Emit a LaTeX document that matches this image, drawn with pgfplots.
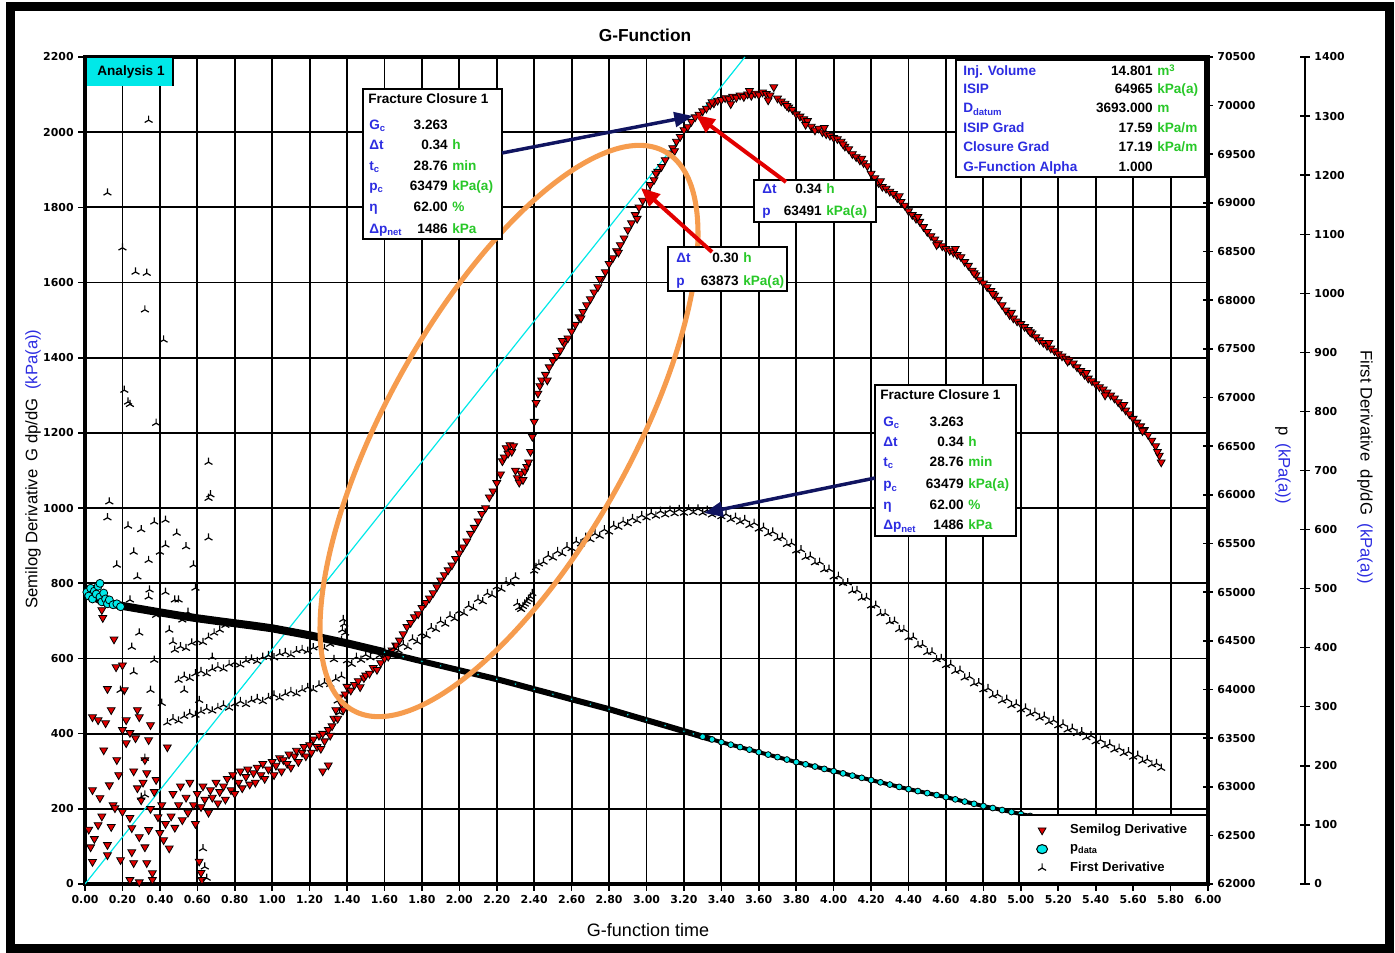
\documentclass[border=0pt]{standalone}
\usepackage{pgfplots}
\pgfplotsset{compat=1.18}
\usepackage{pgfplotstable}
\usepackage{fontspec}
\setmainfont{Liberation Sans}
\newfontfamily\numfont{DejaVu Sans}
\usetikzlibrary{arrows.meta}

\definecolor{semired}{RGB}{226,0,0}
\definecolor{pcyan}{RGB}{0,232,232}
\definecolor{lblue}{RGB}{45,45,225}
\definecolor{ugreen}{RGB}{40,200,40}
\definecolor{navy}{RGB}{16,20,96}
\definecolor{ringorange}{RGB}{246,156,78}

% pressure history (kPa(a)) against G-function time
\pgfplotstableread{
G p
0.05 64946
0.10 64900
0.20 64858
0.30 64825
0.40 64792
0.50 64760
0.60 64731
0.70 64705
0.80 64680
0.90 64655
1.00 64628
1.10 64592
1.20 64556
1.30 64515
1.40 64474
1.50 64428
1.60 64382
1.70 64336
1.80 64289
1.90 64243
2.00 64197
2.10 64151
2.20 64105
2.30 64054
2.40 64002
2.50 63951
2.60 63899
2.70 63848
2.80 63797
2.90 63740
3.00 63684
3.10 63628
3.20 63571
3.25 63543
3.30 63514
3.35 63486
3.40 63458
3.45 63432
3.50 63407
3.55 63381
3.60 63355
3.65 63330
3.70 63304
3.75 63279
3.80 63253
3.85 63230
3.90 63207
3.95 63183
4.00 63160
4.05 63137
4.10 63114
4.15 63091
4.20 63068
4.25 63045
4.30 63022
4.35 62998
4.40 62975
4.45 62955
4.50 62934
4.55 62914
4.60 62893
4.65 62870
4.70 62847
4.75 62824
4.80 62801
4.85 62781
4.90 62760
4.95 62740
5.00 62719
5.05 62699
5.10 62680
5.15 62660
5.20 62640
5.25 62621
5.30 62603
5.35 62584
5.40 62565
5.45 62548
5.50 62530
5.55 62513
5.60 62495
5.65 62478
5.70 62462
5.75 62445
}\pdata

\newcommand{\bx}{\bfseries\fontsize{10.2}{12}\selectfont}
% one line of an annotation box: label x, value right edge, baseline y, label, value, unit
\newcommand{\inforow}[6]{%
  \node[anchor=base west, font=\bx, text=lblue, inner sep=0pt] at (#1,#3) {#4};
  \node[anchor=base east, font=\bx, inner sep=0pt] at (#2,#3) {#5};
  \node[anchor=base west, font=\bx, text=ugreen, inner sep=0pt] at (#2+4,#3) {#6};}

\pgfplotsset{
  gframe/.style={
    scale only axis, width=842.25pt, height=620.25pt,
    at={(63.75pt,51pt)}, anchor=south west,
    xmin=0, xmax=6,
    /pgf/number format/assume math mode=true,
    /pgf/number format/1000 sep={},
    tick label style={font=\numfont\bfseries\fontsize{8.2}{9}\selectfont, black},
    scaled ticks=false,
  },
}

\begin{document}
\begin{tikzpicture}
\begin{scope}[x=0.75pt, y=-0.75pt, yshift=714pt]
  \useasboundingbox (0,0) rectangle (1395,952);
\end{scope}

% ---------- G dp/dG on the left axis ----------
\begin{axis}[gframe, ymin=0, ymax=2200, ytick distance=200,
  xtick={0,0.2,0.4,0.6,0.8,1,1.2,1.4,1.6,1.8,2,2.2,2.4,2.6,2.8,3,3.2,3.4,3.6,3.8,4,4.2,4.4,4.6,4.8,5,5.2,5.4,5.6,5.8,6},
  x tick label style={/pgf/number format/fixed, /pgf/number format/fixed zerofill, /pgf/number format/precision=2},
  tick pos=left, tick align=outside, major tick length=5pt,
  tick style={black, line width=1.2pt},
  grid=major, major grid style={black, line width=1.4pt},
  axis line style={black, line width=2.6pt},
]
\addplot[only marks, mark=triangle*, mark size=3.4pt,
  mark options={rotate=180, fill=semired, draw=black, line width=0.6pt}] coordinates {
(0.02,145) (0.03,98) (0.04,59) (0.04,250) (0.04,444) (0.05,120) (0.07,157) (0.07,436) (0.08,229) (0.09,729) (0.095,708) (0.09,180) (0.10,356) (0.11,428) (0.12,104) (0.12,77) (0.12,519) (0.13,263) (0.14,152) (0.14,463) (0.15,210) (0.155,651) (0.16,202) (0.166,577) (0.17,330) (0.18,290) (0.19,64) (0.20,192) (0.20,410) (0.20,582) (0.21,516) (0.22,375) (0.22,436) (0.24,176) (0.24,402) (0.24,11) (0.25,149) (0.25,85) (0.26,56) (0.26,300) (0.27,388) (0.28,255) (0.28,463) (0.29,444) (0.29,5) (0.29,125) (0.30,223) (0.31,270) (0.32,330) (0.32,98) (0.33,56) (0.33,295) (0.34,383) (0.34,144) (0.35,423) (0.35,200) (0.36,29) (0.36,11) (0.37,245) (0.38,277) (0.39,178) (0.40,136) (0.41,210) (0.42,117) (0.43,160) (0.44,364) (0.45,95) (0.61,60) (0.62,30) (0.625,11)
(0.46,180) (0.47,240) (0.48,150) (0.50,210) (0.51,260) (0.52,170) (0.54,230) (0.55,190) (0.56,270) (0.58,210) (0.59,160) (0.60,240) (0.62,205) (0.63,260) (0.64,225) (0.66,190) (0.67,250) (0.68,230) (0.70,270) (0.71,215) (0.72,245) (0.74,260) (0.75,225) (0.76,280) (0.78,250) (0.79,290) (0.80,240) (0.82,270) (0.83,300) (0.84,255) (0.86,285) (0.87,305) (0.88,265) (0.90,295) (0.91,270) (0.92,310) (0.94,290) (0.95,320) (0.96,280) (0.98,305) (1.00,325) (1.01,290) (1.02,315) (1.04,335) (1.05,300) (1.06,330) (1.08,320) (1.09,345) (1.10,310) (1.12,340) (1.13,355) (1.14,325) (1.16,350) (1.17,365) (1.18,340) (1.20,370) (1.21,350) (1.22,385) (1.24,365) (1.25,395) (1.26,360) (1.27,400) (1.27,300) (1.28,380) (1.30,316) (1.30,410) (1.31,395) (1.32,420) (1.33,440) (1.34,463) (1.35,440) (1.36,497) (1.37,480) (1.38,463) (1.39,505) (1.40,525)
(1.42,515) (1.44,530) (1.46,540) (1.47,524) (1.49,548) (1.50,555) (1.52,560) (1.54,575) (1.56,570) (1.58,588) (1.60,600) (1.62,605) (1.64,622) (1.66,635) (1.68,648) (1.70,665) (1.72,684) (1.74,695) (1.76,710) (1.78,718) (1.80,735) (1.82,748) (1.84,760) (1.86,774) (1.88,790) (1.90,808) (1.92,822) (1.94,835) (1.96,848) (1.98,865) (2.00,880) (2.02,896) (2.04,912) (2.06,932) (2.08,948) (2.10,965) (2.12,985) (2.14,1000) (2.16,1029) (2.18,1045) (2.20,1067) (2.22,1090) (2.23,1125) (2.24,1135) (2.25,1160) (2.26,1145) (2.27,1168) (2.28,1150) (2.29,1165) (2.30,1100) (2.31,1080) (2.32,1068) (2.33,1092) (2.34,1075) (2.35,1098) (2.36,1110) (2.37,1122) (2.38,1150) (2.39,1190) (2.40,1230) (2.41,1280) (2.42,1305) (2.43,1325) (2.44,1340) (2.46,1355) (2.48,1375) (2.50,1392) (2.52,1405) (2.54,1420) (2.56,1438) (2.58,1452) (2.60,1470) (2.62,1488) (2.64,1508) (2.66,1522) (2.68,1540) (2.70,1556) (2.72,1574) (2.74,1588) (2.76,1610) (2.78,1628) (2.80,1650) (2.82,1665) (2.84,1684) (2.86,1700) (2.88,1718) (2.90,1740) (2.92,1758) (2.94,1780) (2.96,1800) (2.98,1818) (3.00,1840) (3.02,1860) (3.04,1873) (3.06,1895) (3.08,1908) (3.10,1926) (3.12,1944) (3.14,1958) (3.16,1975) (3.18,1988) (3.20,2006) (3.22,2014) (3.24,2028) (3.26,2040) (3.28,2047) (3.30,2056) (3.32,2063) (3.34,2072) (3.36,2077) (3.38,2084) (3.40,2086) (3.42,2091) (3.44,2088) (3.46,2095) (3.48,2092) (3.50,2098) (3.52,2094) (3.54,2101) (3.56,2097) (3.58,2103) (3.60,2099) (3.62,2106) (3.64,2102) (3.66,2098) (3.68,2120) (3.70,2090) (3.72,2082) (3.74,2076) (3.76,2066) (3.78,2060) (3.80,2048) (3.82,2042) (3.84,2035) (3.86,2030) (3.88,2015) (3.90,2005) (3.92,2010) (3.94,2000) (3.96,1995) (3.98,1991) (4.00,1985) (4.02,1982) (4.04,1975) (4.06,1962) (4.08,1955) (4.10,1942) (4.12,1934) (4.14,1925) (4.16,1918) (4.18,1910) (4.20,1890) (4.22,1878) (4.24,1865) (4.26,1855) (4.28,1850) (4.30,1842) (4.32,1836) (4.34,1825) (4.36,1815) (4.38,1805) (4.40,1790) (4.42,1780) (4.44,1770) (4.46,1762) (4.48,1748) (4.50,1735) (4.52,1724) (4.54,1715) (4.56,1705) (4.58,1697) (4.60,1690) (4.62,1685) (4.64,1680) (4.66,1674) (4.68,1668) (4.70,1655) (4.72,1645) (4.74,1632) (4.76,1620) (4.78,1608) (4.80,1598) (4.82,1588) (4.84,1578) (4.86,1566) (4.88,1555) (4.90,1540) (4.92,1526) (4.94,1514) (4.96,1505) (4.98,1497) (5.00,1490) (5.02,1482) (5.04,1474) (5.06,1465) (5.08,1455) (5.10,1447) (5.12,1440) (5.14,1432) (5.16,1425) (5.18,1418) (5.20,1410) (5.22,1404) (5.24,1398) (5.26,1394) (5.28,1385) (5.30,1375) (5.32,1365) (5.34,1355) (5.36,1345) (5.38,1338) (5.40,1330) (5.42,1322) (5.44,1316) (5.46,1308) (5.48,1300) (5.50,1292) (5.52,1282) (5.54,1270) (5.56,1260) (5.58,1250) (5.60,1238) (5.62,1228) (5.64,1218) (5.66,1208) (5.68,1195) (5.70,1180) (5.72,1165) (5.74,1140) (5.75,1122)
(2.47,1340) (2.55,1445) (2.65,1505) (2.75,1610) (2.85,1680) (2.95,1770) (3.05,1890) (3.15,1950) (3.35,2080) (3.45,2075) (3.55,2110) (3.65,2085) (3.75,2070) (3.85,2020) (3.95,2012) (4.05,1968) (4.15,1930) (4.25,1870) (4.35,1830) (4.45,1775) (4.55,1700) (4.65,1690) (4.75,1625) (4.85,1570) (4.95,1520) (5.05,1468) (5.15,1440) (5.25,1390) (5.35,1360) (5.45,1300) (5.55,1275) (5.65,1205) (5.73,1150)
};
% straight line through the origin
\addplot[pcyan, line width=0.9pt] coordinates {(0,0) (3.526,2200)};
\end{axis}

% ---------- pressure on the first right axis ----------
\begin{axis}[gframe, ymin=62000, ymax=70500,
  ytick={62000,62500,63000,63500,64000,64500,65000,65500,66000,66500,67000,67500,68000,68500,69000,69500,70000,70500},
  axis x line=none, axis y line*=right,
  axis line style={-, black, line width=2.6pt},
  tick align=center, major tick length=7pt, tick style={black, line width=1.2pt},
  yticklabel style={/pgf/number format/fixed, /pgf/number format/precision=0},
]
\addplot[black, line width=6pt, restrict x to domain=0:1.6] table[x=G, y=p] {\pdata};
\addplot[black, line width=4.5pt, restrict x to domain=1.5:3.35] table[x=G, y=p] {\pdata};
\addplot[black, line width=3pt, restrict x to domain=3.3:6] table[x=G, y=p] {\pdata};
\addplot[only marks, mark=*, mark size=1.1pt, mark options={fill=pcyan, draw=none},
  restrict x to domain=1.55:3.3] table[x=G, y=p] {\pdata};
\addplot[only marks, mark=*, mark size=2.2pt, mark options={fill=pcyan, draw=black, line width=0.6pt},
  restrict x to domain=3.3:6] table[x=G, y=p] {\pdata};
\addplot[only marks, mark=*, mark size=3pt, mark options={fill=pcyan, draw=black, line width=0.6pt}] coordinates {
(0.01,65000) (0.02,64960) (0.03,65040) (0.04,64930) (0.05,65010) (0.06,64980) (0.07,65060) (0.08,65090) (0.08,64950) (0.09,64900) (0.10,64990) (0.11,64930) (0.12,64880) (0.13,64920) (0.15,64870) (0.17,64880) (0.19,64850)
};
\end{axis}

% ---------- first derivative, plotted against the outer right axis ----------
\begin{axis}[gframe, ymin=0, ymax=1400, hide axis,
  legend style={at={(1,0)}, anchor=south east, draw=black, line width=1.3pt, fill=white,
    font=\bfseries\fontsize{9.8}{11}\selectfont, inner xsep=13pt, inner ysep=5pt,
    /tikz/every odd column/.append style={column sep=15pt}, row sep=2.5pt},
  legend cell align=left,
]
\addplot[forget plot, only marks, mark=Mercedes star, mark size=3.4pt, mark options={black, line width=0.9pt}] coordinates {
(0.12,1170) (0.20,1077) (0.27,1036) (0.33,1034) (0.34,1293) (0.32,972) (0.42,921) (0.21,836) (0.23,816) (0.24,812) (0.38,780) (0.66,714) (0.66,653) (0.13,647) (0.37,613) (0.43,616) (0.49,594) (0.23,606) (0.26,562) (0.40,562) (0.54,571) (0.66,586) (0.59,501) (0.50,481) (0.43,494) (0.34,486) (0.29,425) (0.25,401) (0.45,430) (0.26,359) (0.35,328) (0.41,306) (0.68,384) (0.32,213) (0.32,151) (0.30,147) (0.64,29) (0.63,60) (0.65,10) (0.19,328) (0.53,328) (0.61,311) (0.52,447) (0.48,481) (0.40,464) (0.37,379) (0.24,481) (0.34,548) (0.345,498) (0.43,574) (0.67,659) (0.12,620) (0.17,540) (0.28,520) (0.38,455) (0.47,410) (0.55,460) (0.58,540) (0.30,600)
(0.44,273) (0.47,280) (0.50,276) (0.53,284) (0.56,289) (0.59,286) (0.62,292) (0.65,297) (0.68,293) (0.71,299) (0.74,303) (0.77,298) (0.80,305) (0.83,309) (0.86,304) (0.89,311) (0.92,314) (0.95,309) (0.98,316) (1.01,320) (1.04,315) (1.07,322) (1.10,326) (1.13,322) (1.16,329) (1.19,333) (1.22,329) (1.25,337) (1.28,341) (1.31,338) (1.34,347) (1.37,352)
(0.50,345) (0.53,352) (0.56,348) (0.59,356) (0.62,360) (0.65,356) (0.68,364) (0.71,368) (0.74,364) (0.77,372) (0.80,375) (0.83,371) (0.86,378) (0.89,381) (0.92,377) (0.95,384) (0.98,387) (1.01,383) (1.04,390) (1.07,392) (1.10,388) (1.13,395) (1.16,397) (1.19,394) (1.22,400) (1.25,403) (1.28,399) (1.31,406) (1.34,410) (1.37,412)
(0.48,396) (0.51,402) (0.54,399) (0.57,408) (0.60,412) (0.63,409) (0.66,418) (0.69,425) (0.72,430) (0.75,438)
(1.375,430) (1.38,448) (1.385,440) (1.39,425) (1.33,380) (1.35,310) (1.36,290)
(1.400,378) (1.425,372) (1.450,384) (1.475,379) (1.500,388) (1.525,383) (1.550,394) (1.575,387) (1.600,396) (1.625,390) (1.650,400) (1.675,395) (1.700,406) (1.725,401) (1.750,415) (1.775,410) (1.800,424) (1.825,420) (1.850,434) (1.875,431) (1.900,445) (1.925,440) (1.950,454) (1.975,449) (2.000,462) (2.025,458) (2.050,471) (2.075,467) (2.100,482) (2.125,478) (2.150,492) (2.175,489) (2.200,503) (2.225,499) (2.250,512) (2.275,509) (2.300,520)
(2.310,475) (2.320,468) (2.330,465) (2.340,470) (2.350,474) (2.360,478) (2.370,482) (2.380,486) (2.390,492) (2.400,530) (2.410,536) (2.425,542) (2.450,545) (2.475,556) (2.500,552) (2.525,563) (2.550,559) (2.575,571) (2.600,568) (2.625,580) (2.650,576) (2.675,587) (2.700,583) (2.725,593) (2.750,589) (2.775,600) (2.800,596) (2.825,607) (2.850,604) (2.875,614) (2.900,610) (2.925,619) (2.950,615) (2.975,624) (3.000,620) (3.025,628) (3.050,623) (3.075,631) (3.100,625) (3.125,633) (3.150,627) (3.175,634) (3.200,628) (3.225,635) (3.250,629) (3.275,635) (3.300,628) (3.325,633) (3.350,625) (3.375,630) (3.400,622) (3.425,626) (3.450,617) (3.475,621) (3.500,613) (3.525,617) (3.550,607) (3.575,611) (3.600,601) (3.625,604) (3.650,593) (3.675,596) (3.700,585) (3.725,587) (3.750,575) (3.775,577) (3.800,564) (3.825,566) (3.850,553) (3.875,555) (3.900,544) (3.925,545) (3.950,532) (3.975,533) (4.000,520) (4.025,521) (4.050,509) (4.075,510) (4.100,496) (4.125,497) (4.150,484) (4.175,485) (4.200,471) (4.225,472) (4.250,458) (4.275,458) (4.300,444) (4.325,445) (4.350,431) (4.375,431) (4.400,417) (4.425,418) (4.450,404) (4.475,405) (4.500,392) (4.525,393) (4.550,380) (4.575,382) (4.600,370) (4.625,372) (4.650,360) (4.675,362) (4.700,349) (4.725,351) (4.750,339) (4.775,341) (4.800,329) (4.825,331) (4.850,319) (4.875,321) (4.900,310) (4.925,313) (4.950,302) (4.975,305) (5.000,295) (5.025,298) (5.050,288) (5.075,291) (5.100,281) (5.125,284) (5.150,274) (5.175,277) (5.200,268) (5.225,271) (5.250,261) (5.275,264) (5.300,255) (5.325,258) (5.350,248) (5.375,251) (5.400,241) (5.425,244) (5.450,234) (5.475,237) (5.500,227) (5.525,230) (5.550,221) (5.575,224) (5.600,215) (5.625,218) (5.650,208) (5.675,211) (5.700,202) (5.725,204) (5.750,196)
};
\addlegendimage{only marks, mark=triangle*, mark size=3.4pt, mark options={rotate=180, fill=semired, draw=black, line width=0.6pt}}
\addlegendentry{Semilog Derivative}
\addlegendimage{only marks, mark=*, mark size=3.4pt, mark options={fill=pcyan, draw=black, line width=0.8pt, xscale=1.2}}
\addlegendentry{p\textsubscript{data}}
\addlegendimage{only marks, mark=Mercedes star, mark size=3.5pt, mark options={black, line width=0.9pt}}
\addlegendentry{First Derivative}
\end{axis}

% outer right axis for dp/dG
\begin{axis}[scale only axis, width=10pt, height=620.25pt, at={(978.75pt,51pt)}, anchor=south east,
  xmin=0, xmax=1, ymin=0, ymax=1400,
  axis x line=none, axis y line=right, axis line style={-, black, line width=1.1pt},
  ytick distance=100, tick align=center, major tick length=7pt, tick style={black, line width=1pt},
  /pgf/number format/assume math mode=true,
  /pgf/number format/1000 sep={},
  tick label style={font=\numfont\bfseries\fontsize{8.2}{9}\selectfont, black},
]
\addplot[draw=none] coordinates {(0,0) (1,1400)};
\end{axis}

% closure ellipse drawn over the data
\draw[ringorange, line width=3.8pt, rotate around={60.8:(381.75pt,390.75pt)}]
  (381.75pt,390.75pt) ellipse [x radius=240pt, y radius=91.5pt];

\begin{scope}[x=0.75pt, y=-0.75pt, yshift=714pt]
  % frame
  \draw[black, line width=6.75pt] (10.5,6.5) rectangle (1389.5,948);
  % titles
  \node[font=\bfseries\fontsize{13}{15}\selectfont] at (645,35) {G-Function};
  \node[font=\fontsize{13.5}{15}\selectfont] at (648,930) {G-function time};
  \node[rotate=90, font=\fontsize{12.5}{14}\selectfont] at (33,469)
    {Semilog Derivative\enspace G dp/dG\enspace\textcolor{lblue}{(kPa(a))}};
  \node[rotate=-90, font=\fontsize{12.5}{14}\selectfont] at (1283,465)
    {p\enspace\textcolor{lblue}{(kPa(a))}};
  \node[rotate=-90, font=\fontsize{12.5}{14}\selectfont] at (1365,467)
    {First Derivative\enspace dp/dG\enspace\textcolor{lblue}{(kPa(a))}};

  % analysis tag
  \fill[pcyan] (87,58) rectangle (173,86);
  \draw[black, line width=1.5pt] (173,58) -- (173,86);
  \node[font=\bfseries\fontsize{10.2}{12}\selectfont] at (131,72) {Analysis 1};

  % closure box near the semilog curve
  \draw[black, line width=1.5pt, fill=white] (363,89) rectangle (502,239);
  \node[anchor=base west, font=\bx, inner sep=0pt] at (368,104) {Fracture Closure 1};
  \inforow{369}{448}{130}{G\textsubscript{c}}{3.263}{}
  \inforow{369}{448}{150}{Δt}{0.34}{h}
  \inforow{369}{448}{171}{t\textsubscript{c}}{28.76}{min}
  \inforow{369}{448}{191}{p\textsubscript{c}}{63479}{kPa(a)}
  \inforow{369}{448}{212}{η}{62.00}{\%}
  \inforow{369}{448}{234}{Δp\textsubscript{net}}{1486}{kPa}

  % closure box near the first derivative
  \draw[black, line width=1.5pt, fill=white] (875,385) rectangle (1016,536);
  \node[anchor=base west, font=\bx, inner sep=0pt] at (880,400) {Fracture Closure 1};
  \inforow{883}{964}{427}{G\textsubscript{c}}{3.263}{}
  \inforow{883}{964}{447}{Δt}{0.34}{h}
  \inforow{883}{964}{467}{t\textsubscript{c}}{28.76}{min}
  \inforow{883}{964}{489}{p\textsubscript{c}}{63479}{kPa(a)}
  \inforow{883}{964}{510}{η}{62.00}{\%}
  \inforow{883}{964}{530}{Δp\textsubscript{net}}{1486}{kPa}

  % job summary
  \draw[black, line width=1.5pt, fill=white] (956,60) rectangle (1205,177);
  \inforow{963}{1153}{76}{Inj. Volume}{14.801}{m\textsuperscript{3}}
  \inforow{963}{1153}{94}{ISIP}{64965}{kPa(a)}
  \inforow{963}{1153}{113}{D\textsubscript{datum}}{3693.000}{m}
  \inforow{963}{1153}{133}{ISIP Grad}{17.59}{kPa/m}
  \inforow{963}{1153}{152}{Closure Grad}{17.19}{kPa/m}
  \inforow{963}{1153}{172}{G-Function Alpha}{1.000}{}

  % point readouts
  \draw[black, line width=1.5pt, fill=white] (754,180) rectangle (876,222);
  \inforow{762}{822}{194}{Δt}{0.34}{h}
  \inforow{762}{822}{216}{p}{63491}{kPa(a)}
  \draw[black, line width=1.5pt, fill=white] (668,247) rectangle (787,291);
  \inforow{676}{739}{263}{Δt}{0.30}{h}
  \inforow{676}{739}{286}{p}{63873}{kPa(a)}

  % pointers
  \draw[navy, line width=2.6pt, -{Triangle[length=14pt, width=11pt]}] (502,153) -- (693,116);
  \draw[navy, line width=2.6pt, -{Triangle[length=14pt, width=11pt]}] (875,478) -- (704,513);
  \draw[semired, line width=3pt, -{Triangle[length=14pt, width=12pt]}] (786,182) -- (696,115);
  \draw[semired, line width=3pt, -{Triangle[length=14pt, width=12pt]}] (712,252) -- (641,188);
\end{scope}
\end{tikzpicture}
\end{document}
